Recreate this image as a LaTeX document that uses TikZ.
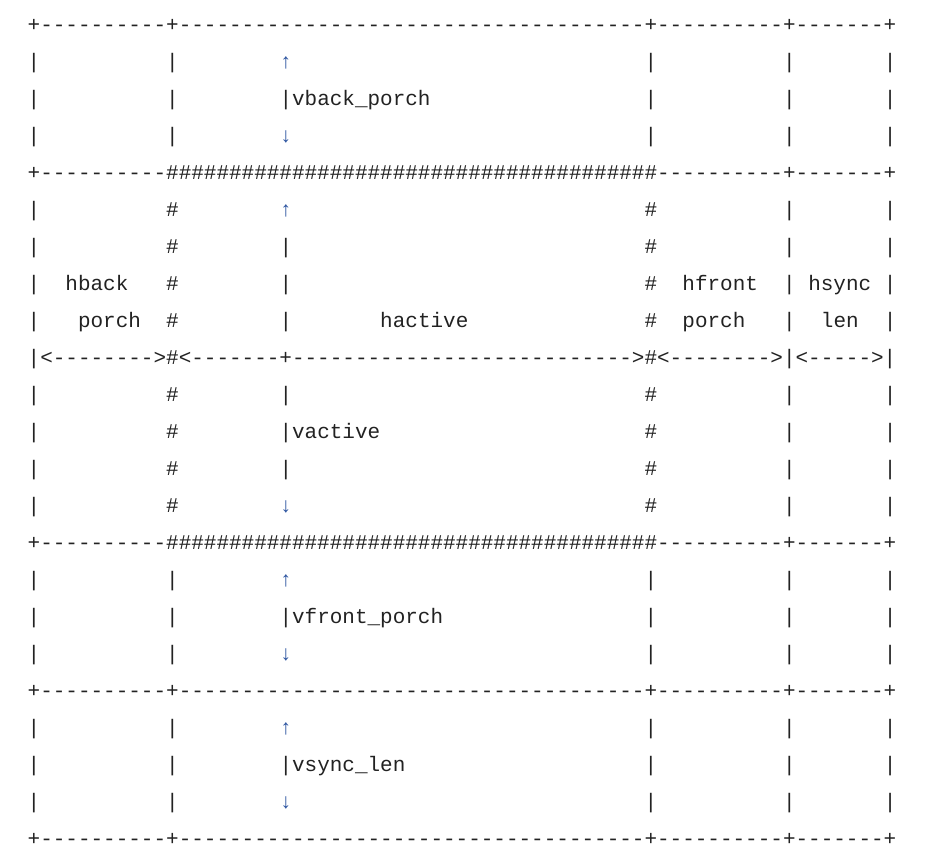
\documentclass[tikz,border=0pt]{standalone}
\usepackage{fontspec}
\setmonofont{Liberation Mono}
\ExplSyntaxOn
\cs_new:Npn \reptext #1#2 { \prg_replicate:nn {#1} {#2} }
\ExplSyntaxOff
\definecolor{ink}{RGB}{34,34,34}
\definecolor{arrowblue}{RGB}{45,85,160}

\begin{document}
\begin{tikzpicture}[
      x=6.295bp, y=18.5bp,
      every node/.style={inner sep=0pt, outer sep=0pt, anchor=base west, text=ink,
        font=\fontsize{10.49bp}{12bp}\selectfont\ttfamily},
      arrowchar/.style={text=arrowblue}
    ]
    \useasboundingbox (-2.2,0.838) rectangle (72.3,-22.378);
    % horizontal rules
    \foreach \r in {0,18,22}
        \node (rule\r) at (0,-\r) {+\reptext{10}{-}+\reptext{37}{-}+\reptext{10}{-}+\reptext{7}{-}+};
    \foreach \r in {4,14}
        \node (rule\r) at (0,-\r) {+\reptext{10}{-}\reptext{39}{\#}\reptext{10}{-}+\reptext{7}{-}+};
    \node (dims) at (0,-9) {|<\reptext{8}{-}>\#<\reptext{7}{-}+\reptext{27}{-}>\#<\reptext{8}{-}>|<\reptext{5}{-}>|};
    % vertical rules
    \foreach \r in {1,2,3,15,16,17,19,20,21}
        \foreach \c in {0,11,49,60,68}
            \node (bar\r-\c) at (\c,-\r) {|};
    \foreach \r in {5,6,7,8,10,11,12,13} {
        \foreach \c in {0,60,68}
            \node (bar\r-\c) at (\c,-\r) {|};
        \foreach \c in {11,49}
            \node (bar\r-\c) at (\c,-\r) {\#};
    }
    % vertical extents
    \foreach \r in {1,5,15,19}
        \node[arrowchar] (up\r) at (20,-\r) {↑};
    \foreach \r in {3,13,17,21}
        \node[arrowchar] (down\r) at (20,-\r) {↓};
    \foreach \r in {2,6,7,8,10,11,12,16,20}
        \node (bar\r-20) at (20,-\r) {|};
    \node (vback) at (bar2-20.base east) {vback\_porch};
    \node (vactive) at (bar11-20.base east) {vactive};
    \node (vfront) at (bar16-20.base east) {vfront\_porch};
    \node (vsync) at (bar20-20.base east) {vsync\_len};
    % horizontal labels
    \node (hback) at (3,-7) {hback};
    \node (hbackp) at (4,-8) {porch};
    \node (hactive) at (28,-8) {hactive};
    \node (hfront) at (52,-7) {hfront};
    \node (hfrontp) at (52,-8) {porch};
    \node (hsync) at (62,-7) {hsync};
    \node (hsyncl) at (63,-8) {len};
\end{tikzpicture}
\end{document}
